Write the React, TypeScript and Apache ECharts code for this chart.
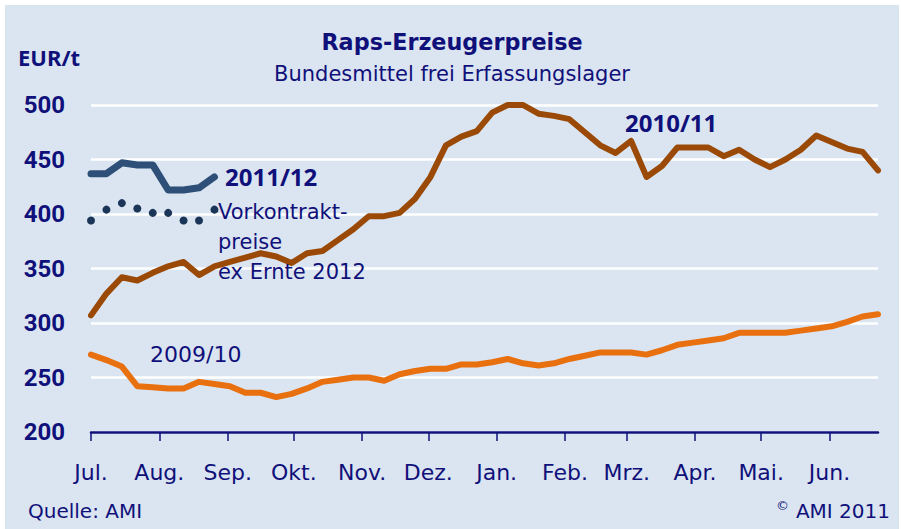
import { useEffect, useRef } from "react";
import * as echarts from "echarts";

// Month labels and their start day (days since 1 July); x axis unit = weeks
const monthLabels = ["Jul.", "Aug.", "Sep.", "Okt.", "Nov.", "Dez.", "Jan.", "Feb.", "Mrz.", "Apr.", "Mai.", "Jun."];
const monthStartDays = [0, 31, 62, 92, 123, 153, 184, 215, 243, 274, 304, 335];

// Weekly producer prices, EUR/t (week 0 = first week of July)
const prices2009_10 = [
  271, 266, 260, 242, 241, 240, 240, 246, 244, 242,
  236, 236, 232, 235, 240, 246, 248, 250, 250, 247,
  253, 256, 258, 258, 262, 262, 264, 267, 263, 261,
  263, 267, 270, 273, 273, 273, 271, 275, 280, 282,
  284, 286, 291, 291, 291, 291, 293, 295, 297, 301,
  306, 308,
];
const prices2010_11 = [
  307, 327, 342, 339, 346, 352, 356, 344, 352, 356,
  360, 364, 361, 355, 364, 366, 376, 386, 398, 398,
  401, 414, 434, 463, 471, 476, 493, 500, 500, 492,
  490, 487, 475, 463, 456, 467, 434, 444, 461, 461,
  461, 453, 459, 450, 443, 450, 459, 472, 466, 460,
  457, 440,
];
const prices2011_12 = [437, 437, 447, 445, 445, 422, 422, 424, 434];
const forwardHarvest2012 = [394, 404, 410, 405, 401, 401, 394, 394, 404];

const yMin = 200;
const yMax = 500;
const yStep = 50;
const lastWeek = 51;

const NAVY = "#10107a";
const REG = "'DejaVu Sans', sans-serif";
const BOLD = "'Noto Sans', sans-serif";
const NUM = "Roboto, sans-serif";

const toPairs = (arr: number[]) => arr.map((v, i) => [i, v]);
const monthTicks = monthStartDays.map((d) => d / 7);

const txt = (x: number, y: number, text: string, font: string, align = "left") => ({
  type: "text",
  x,
  y,
  z: 100,
  style: { text, fill: NAVY, font, align, verticalAlign: "middle" },
});

export default function App() {
  const ref = useRef<HTMLDivElement>(null);
  useEffect(() => {
    if (!ref.current) return;
    const chart = echarts.init(ref.current, null, { renderer: "svg" });
    chart.setOption({
      animation: false,
      textStyle: { fontFamily: REG },
      grid: { left: 91, right: 23, top: 105, bottom: 97 },
      xAxis: {
        type: "value",
        min: 0,
        max: lastWeek,
        axisLine: { show: true, onZero: false, lineStyle: { color: NAVY, width: 2.5 } },
        axisTick: { show: true, customValues: monthTicks, length: 9, lineStyle: { color: NAVY, width: 1.5 } },
        axisLabel: {
          show: true,
          customValues: monthTicks,
          margin: 29,
          color: NAVY,
          fontSize: 22,
          fontFamily: REG,
          formatter: (v: number) => {
            const idx = monthTicks.findIndex((t) => Math.abs(t - v) < 1e-6);
            return idx >= 0 ? monthLabels[idx] : "";
          },
        },
        splitLine: { show: false },
      },
      yAxis: {
        type: "value",
        min: yMin,
        max: yMax,
        interval: yStep,
        axisLine: { show: false },
        axisTick: { show: false },
        axisLabel: { color: NAVY, fontSize: 24, fontWeight: "bold", margin: 26, fontFamily: NUM },
        splitLine: { show: true, lineStyle: { color: "#ffffff", width: 2.5 } },
      },
      series: [
        {
          name: "2009/10",
          type: "line",
          data: toPairs(prices2009_10),
          showSymbol: false,
          lineStyle: { color: "#e8700f", width: 6, cap: "round", join: "round" },
          z: 3,
        },
        {
          name: "2010/11",
          type: "line",
          data: toPairs(prices2010_11),
          showSymbol: false,
          clip: false,
          lineStyle: { color: "#9a4a06", width: 6, cap: "round", join: "round" },
          z: 3,
        },
        {
          name: "2011/12",
          type: "line",
          data: toPairs(prices2011_12),
          showSymbol: false,
          lineStyle: { color: "#2e5078", width: 7, cap: "round", join: "round" },
          z: 4,
        },
        {
          name: "Vorkontraktpreise ex Ernte 2012",
          type: "line",
          data: toPairs(forwardHarvest2012),
          showSymbol: true,
          symbol: "circle",
          symbolSize: 8,
          itemStyle: { color: "#1b3558" },
          lineStyle: { width: 0, opacity: 0 },
          z: 4,
        },
      ],
      graphic: [
        txt(452, 42, "Raps-Erzeugerpreise", `bold 22.3px ${REG}`, "center"),
        txt(452, 74, "Bundesmittel frei Erfassungslager", `21px ${REG}`, "center"),
        txt(18, 57, "EUR/t", `bold 22px ${BOLD}`),
        txt(225, 176, "2011/12", `bold 24px ${BOLD}`),
        txt(218, 212, "Vorkontrakt-", `21px ${REG}`),
        txt(218, 242, "preise", `21px ${REG}`),
        txt(218, 272, "ex Ernte 2012", `21px ${REG}`),
        txt(625, 122, "2010/11", `bold 24px ${BOLD}`),
        txt(150, 354, "2009/10", `22px ${REG}`),
        txt(28, 511, "Quelle: AMI", `20px ${REG}`),
        txt(890, 511, "AMI 2011", `20px ${REG}`, "right"),
        txt(789, 505, "©", `13px ${REG}`, "right"),
      ],
    });
    return () => chart.dispose();
  }, []);

  return (
    <div style={{ position: "absolute", left: 0, top: 0, width: 901, height: 529, background: "#ffffff" }}>
      <div style={{ position: "absolute", left: 5, top: 5, width: 894, height: 524, background: "#dbe5f1" }} />
      <div ref={ref} style={{ position: "absolute", left: 0, top: 0, width: 901, height: 529 }} />
    </div>
  );
}
